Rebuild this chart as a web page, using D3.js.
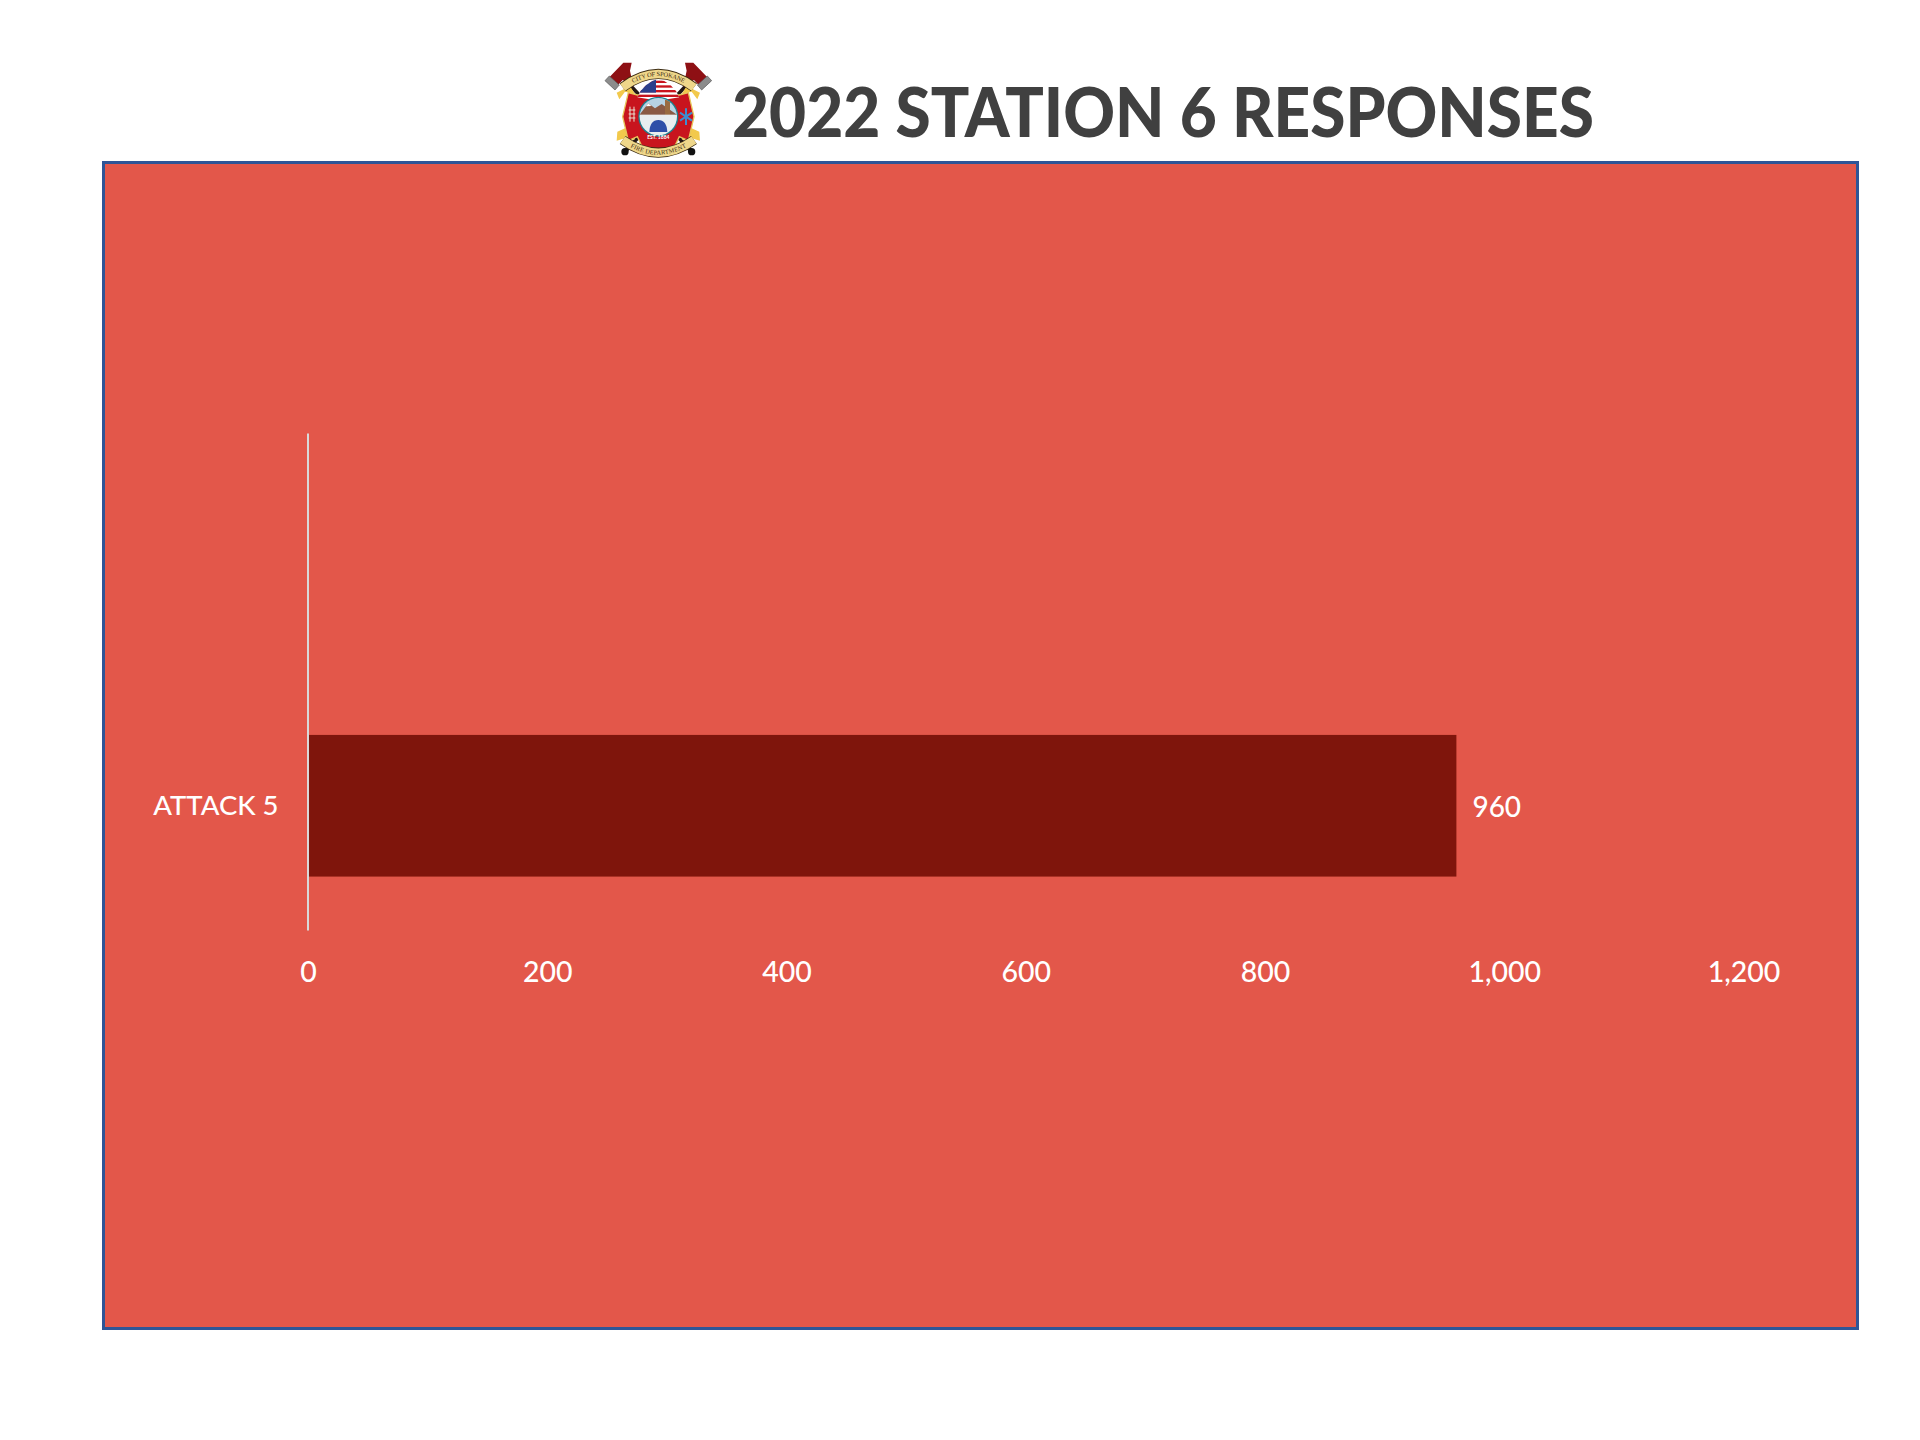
<!DOCTYPE html>
<html>
<head>
<meta charset="utf-8">
<script src="https://cdn.jsdelivr.net/npm/d3@7"></script>
<style>
  html, body { margin: 0; padding: 0; background: #fff; }
  svg { display: block; }
  text { font-family: Lato, "Open Sans", sans-serif; }
</style>
</head>
<body>
<div id="vis"></div>
<script>
// data
var categories = ["", "ATTACK 5"];
var responses = [null, 960];
var xTicks = [0, 200, 400, 600, 800, 1000, 1200];
var chartTitle = "2022 STATION 6 RESPONSES";

var svg = d3.select("#vis").append("svg")
  .attr("width", 1920)
  .attr("height", 1440);

// red panel with blue frame
svg.append("rect")
  .attr("x", 103.5)
  .attr("y", 162.5)
  .attr("width", 1754)
  .attr("height", 1166)
  .attr("fill", "#E3574A")
  .attr("stroke", "#2F5597")
  .attr("stroke-width", 3);

var margin = {top: 433, left: 308};
var width = 1435.5, height = 497;

var g = svg.append("g")
  .attr("transform", "translate(" + margin.left + "," + margin.top + ")");

var x = d3.scaleLinear().domain([0, 1200]).range([0, width]);

var y = d3.scaleBand()
  .domain(categories)
  .range([0, height])
  .paddingInner(0.43)
  .paddingOuter(0.215);

var bars = categories.map(function(c, i) { return {name: c, value: responses[i]}; })
  .filter(function(d) { return d.value != null; });

g.selectAll("rect.bar")
  .data(bars)
  .enter().append("rect")
  .attr("class", "bar")
  .attr("x", x(0) + 1)
  .attr("y", function(d) { return y(d.name); })
  .attr("width", function(d) { return x(d.value) - x(0) - 1; })
  .attr("height", y.bandwidth())
  .attr("fill", "#7F150C");

g.selectAll("text.value")
  .data(bars)
  .enter().append("text")
  .attr("class", "value")
  .attr("x", function(d) { return x(d.value) + 16; })
  .attr("y", function(d) { return y(d.name) + y.bandwidth() / 2 + 11; })
  .attr("fill", "#fff")
  .attr("font-size", 28)
  .attr("font-weight", 500)
  .text(function(d) { return d.value; });

// x axis, labels only
var xAxis = g.append("g")
  .attr("transform", "translate(0," + height + ")")
  .call(d3.axisBottom(x).tickValues(xTicks).tickSize(0).tickPadding(32).tickFormat(d3.format(",")));
xAxis.select(".domain").remove();
xAxis.selectAll("text").attr("fill", "#fff").attr("font-size", 28.5).attr("font-weight", 500);

// y axis, light grey line at zero
var yAxis = g.append("g")
  .attr("transform", "translate(-0.5,0)")
  .call(d3.axisLeft(y).tickSize(0).tickPadding(29));
yAxis.select(".domain")
  .attr("stroke", "#D9D9D9")
  .attr("stroke-width", 2);
yAxis.selectAll("text").attr("fill", "#fff").attr("font-size", 27.5).attr("font-weight", 500).attr("dy", "0.32em");

// title
svg.append("text")
  .attr("x", 732)
  .attr("y", 137)
  .attr("fill", "#404040")
  .attr("font-size", 68)
  .attr("font-weight", 900)
  .attr("textLength", 862)
  .attr("lengthAdjust", "spacingAndGlyphs")
  .text(chartTitle);

// fire department emblem, drawn in the coordinates of a 420 box
var logo = svg.append("g")
  .attr("transform", "translate(580,40) scale(0.3333)");

var defs = svg.append("defs");
defs.append("path").attr("id", "arcTop").attr("d", "M128,142 Q235,62 342,142");
defs.append("path").attr("id", "arcBottom").attr("d", "M128,300 Q235,376 342,300");
defs.append("clipPath").attr("id", "badgeClip").append("circle").attr("cx", 235).attr("cy", 230).attr("r", 56);
defs.append("clipPath").attr("id", "flagClip").append("path").attr("d", "M172,172 Q190,128 235,116 Q280,128 298,172 L235,182 Z");

// handles
logo.append("path").attr("d", "M150,135 L335,335").attr("stroke", "#231815").attr("stroke-width", 11);
logo.append("path").attr("d", "M320,135 L135,335").attr("stroke", "#231815").attr("stroke-width", 11);
logo.append("circle").attr("cx", 335).attr("cy", 335).attr("r", 11).attr("fill", "#111");
logo.append("circle").attr("cx", 135).attr("cy", 335).attr("r", 11).attr("fill", "#111");

// axe heads, left then mirrored
[0, 1].forEach(function(m) {
  var head = logo.append("g")
    .attr("transform", m ? "translate(470,0) scale(-1,1)" : null);
  head.append("path").attr("d", "M88,112 L130,68 L155,68 L150,92 L160,140 L128,120 L108,142 Z").attr("fill", "#8E1014");
  head.append("path").attr("d", "M75,122 L88,108 L118,135 L105,150 Z").attr("fill", "#8C8C8C").attr("stroke", "#555").attr("stroke-width", 2);
});

// ribbon tails
logo.append("path").attr("d", "M110,158 L150,138 L165,162 L135,155 L118,178 Z").attr("fill", "#F2C94C");
logo.append("path").attr("d", "M360,158 L320,138 L305,162 L335,155 L352,178 Z").attr("fill", "#F2C94C");
logo.append("path").attr("d", "M112,275 L135,265 L165,300 L135,295 L110,302 Z").attr("fill", "#F2C94C");
logo.append("path").attr("d", "M358,275 L335,265 L305,300 L335,295 L360,302 Z").attr("fill", "#F2C94C");

// maltese cross
logo.append("path")
  .attr("d", "M172,165 L298,165 L325,158 L342,230 L325,302 L298,290 L280,328 L190,328 L172,290 L145,302 L128,230 L145,158 Z")
  .attr("fill", "#C8141E")
  .attr("stroke", "#E7C55A")
  .attr("stroke-width", 4);

// flag
var flag = logo.append("g").attr("clip-path", "url(#flagClip)");
flag.append("rect").attr("x", 170).attr("y", 112).attr("width", 130).attr("height", 72).attr("fill", "#fff");
[122, 136, 150, 164, 178].forEach(function(sy) {
  flag.append("rect").attr("x", 170).attr("y", sy).attr("width", 130).attr("height", 7).attr("fill", "#C8141E");
});
flag.append("rect").attr("x", 170).attr("y", 112).attr("width", 58).attr("height", 46).attr("fill", "#2B3F8C");

// center badge
logo.append("circle").attr("cx", 235).attr("cy", 230).attr("r", 60).attr("fill", "#1E7F8E");
var badge = logo.append("g").attr("clip-path", "url(#badgeClip)");
badge.append("rect").attr("x", 175).attr("y", 170).attr("width", 120).attr("height", 60).attr("fill", "#B7D3E4");
badge.append("path").attr("d", "M178,225 L205,190 L225,205 L245,192 L292,225 Z").attr("fill", "#8A5A44");
badge.append("path").attr("d", "M198,199 L205,190 L214,198 Z").attr("fill", "#fff");
badge.append("rect").attr("x", 255).attr("y", 180).attr("width", 15).attr("height", 50).attr("fill", "#9A6B3F");
badge.append("rect").attr("x", 175).attr("y", 224).attr("width", 120).attr("height", 65).attr("fill", "#E9EEF0");
badge.append("path").attr("d", "M208,276 Q210,240 235,240 Q260,240 262,276 Z").attr("fill", "#2E4FA8");

// star of life and ladder on the cross arms
logo.append("path").attr("d", "M318,205 L318,255 M300,218 L336,242 M336,218 L300,242").attr("stroke", "#3D8FD1").attr("stroke-width", 6);
logo.append("path").attr("d", "M150,200 L150,245 M162,200 L162,245 M146,210 L166,210 M146,222 L166,222 M146,234 L166,234").attr("stroke", "#E8E0D0").attr("stroke-width", 3);

// banners
logo.append("path").attr("d", "M128,142 Q235,62 342,142").attr("fill", "none").attr("stroke", "#3A2A10").attr("stroke-width", 30);
logo.append("path").attr("d", "M128,142 Q235,62 342,142").attr("fill", "none").attr("stroke", "#EFD78A").attr("stroke-width", 25);
logo.append("path").attr("d", "M128,300 Q235,376 342,300").attr("fill", "none").attr("stroke", "#3A2A10").attr("stroke-width", 30);
logo.append("path").attr("d", "M128,300 Q235,376 342,300").attr("fill", "none").attr("stroke", "#EFD78A").attr("stroke-width", 25);

logo.append("text")
  .attr("font-size", 19).attr("fill", "#3A2A10").attr("dy", 6).attr("text-anchor", "middle")
  .style("font-family", "'Liberation Serif', serif")
  .append("textPath").attr("href", "#arcTop").attr("startOffset", "50%").text("CITY OF SPOKANE");
logo.append("text")
  .attr("font-size", 19).attr("fill", "#3A2A10").attr("dy", 6).attr("text-anchor", "middle")
  .style("font-family", "'Liberation Serif', serif")
  .append("textPath").attr("href", "#arcBottom").attr("startOffset", "50%").text("FIRE DEPARTMENT");
logo.append("text")
  .attr("x", 235).attr("y", 298).attr("text-anchor", "middle")
  .attr("font-size", 15).attr("font-weight", 700).attr("fill", "#fff")
  .text("EST. 1884");
</script>
</body>
</html>
